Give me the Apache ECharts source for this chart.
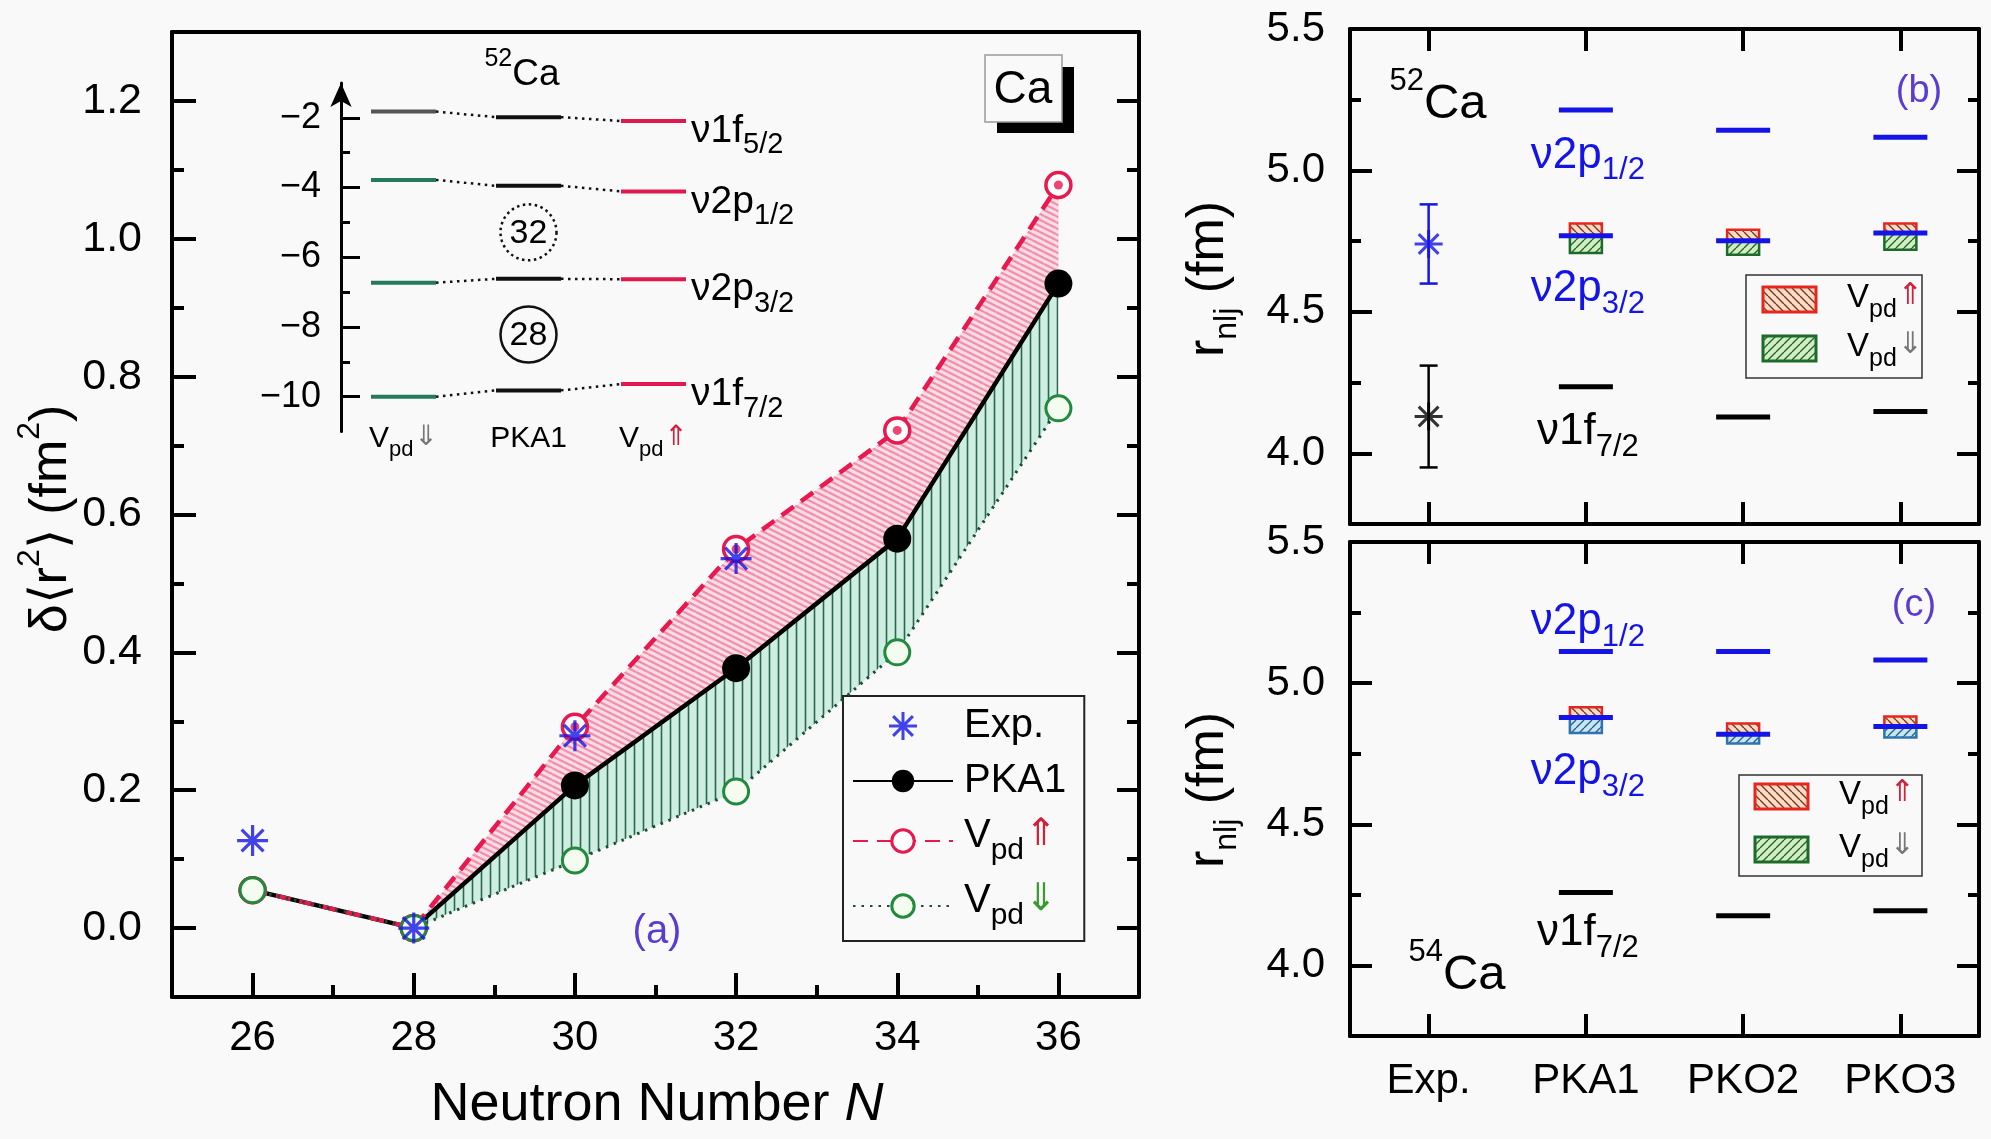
<!DOCTYPE html>
<html><head><meta charset="utf-8">
<script src="https://cdn.jsdelivr.net/npm/echarts@6/dist/echarts.min.js"></script>
<style>html,body{margin:0;padding:0;background:#f9f9f9;}#c{width:1991px;height:1139px;}</style>
</head><body><div id="c"></div>
<script>
// ---------------- data ----------------
const neutronN = [26, 28, 30, 32, 34, 36];
const expN = [26, 28, 30, 32];
const expDr2 = [0.127, 0.0, 0.279, 0.536];
const pka1Dr2 = [0.055, 0.0, 0.207, 0.377, 0.565, 0.935];
const vpdUpDr2 = [0.055, 0.0, 0.292, 0.550, 0.722, 1.078];
const vpdDownDr2 = [0.055, 0.0, 0.098, 0.198, 0.400, 0.754];
const xTicksA = [26, 28, 30, 32, 34, 36];
const xMinorA = [27, 29, 31, 33, 35];
const yTicksA = [0, 0.2, 0.4, 0.6, 0.8, 1.0, 1.2];
const yMinorA = [0.1, 0.3, 0.5, 0.7, 0.9, 1.1];

const insetColumns = ['Vpd⇓', 'PKA1', 'Vpd⇑'];
const insetLevelNames = ['ν1f{s|5/2}', 'ν2p{s|1/2}', 'ν2p{s|3/2}', 'ν1f{s|7/2}'];
const levelsVpdDown = [-1.82, -3.78, -6.73, -10.0];
const levelsPKA1 = [-1.98, -3.95, -6.62, -9.82];
const levelsVpdUp = [-2.09, -4.11, -6.63, -9.64];
const shellGaps = [32, 28];
const insetTicks = [-2, -4, -6, -8, -10];
const insetMinor = [-3, -5, -7, -9];

const models = ['Exp.', 'PKA1', 'PKO2', 'PKO3'];
const rTicks = [4.0, 4.5, 5.0, 5.5];
const rMinor = [4.25, 4.75, 5.25];
const rLevelNames = ['ν2p{s|1/2}', 'ν2p{s|3/2}', 'ν1f{s|7/2}'];
// 52Ca (PKA1, PKO2, PKO3)
const exp52 = [4.74, 4.13];
const exp52Err = [0.14, 0.18];
const ca52_2p12 = [5.214, 5.142, 5.117];
const ca52_2p32 = [4.769, 4.751, 4.779];
const ca52_1f72 = [4.235, 4.128, 4.148];
const ca52_2p32Up = [4.812, 4.790, 4.812];
const ca52_2p32Down = [4.708, 4.702, 4.720];
// 54Ca
const ca54_2p12 = [5.112, 5.112, 5.082];
const ca54_2p32 = [4.878, 4.819, 4.846];
const ca54_1f72 = [4.258, 4.176, 4.194];
const ca54_2p32Up = [4.915, 4.857, 4.882];
const ca54_2p32Down = [4.823, 4.786, 4.807];

// ---------------- styles ----------------
const FONT = '"Liberation Sans", Arial, Helvetica, sans-serif';
const ARW = '"DejaVu Sans", sans-serif';
const RED = '#e8194f', BLUE = '#1414e6', PURPLE = '#5a3cd2';

function hatch(bg, fg, w, h, lw, dir) {
  const c = document.createElement('canvas'); c.width = w; c.height = h;
  const g = c.getContext('2d'); g.fillStyle = bg; g.fillRect(0, 0, w, h);
  g.strokeStyle = fg; g.lineWidth = lw; g.beginPath();
  if (dir === 'v') { g.moveTo(w / 2, 0); g.lineTo(w / 2, h); }
  else if (dir === 'down') { for (let k = -1; k <= 1; k++) { g.moveTo(0, k * h); g.lineTo(w, (k + 1) * h); } }
  else { for (let k = -1; k <= 1; k++) { g.moveTo(0, (k + 1) * h); g.lineTo(w, k * h); } }
  g.stroke();
  return { image: c, repeat: 'repeat' };
}
const pinkFill = hatch('#fbdbe4', '#f08fab', 12, 6, 2.2, 'down');
const greenFill = hatch('#cdeee0', '#2d6650', 9, 4, 1.6, 'v');
const redBox = hatch('#fcdcc4', '#7a3a22', 8, 8, 1.4, 'down');
const greenBox = hatch('#cdefc2', '#2f5f2f', 8, 8, 1.4, 'up');
const blueBox = hatch('#c6e6f2', '#2a5f86', 8, 8, 1.4, 'up');
const ASTER = 'path://M10,0L10,20M0,10L20,10M2.93,2.93L17.07,17.07M2.93,17.07L17.07,2.93';

function tok(size, color, extra) {
  return Object.assign({ fontSize: size, fontFamily: FONT, color: color, fill: color, verticalAlign: 'top' }, extra || {});
}
function vpdRich(size, sub, arr, upColor, dnColor) {
  return {
    m: tok(size, '#000'),
    s: tok(sub, '#000', { padding: [Math.round(size * 0.5), 0, 0, 0] }),
    u: tok(arr, upColor, { fontFamily: ARW, padding: [0, 0, 0, 1] }),
    d: tok(arr, dnColor, { fontFamily: ARW, padding: [0, 0, 0, 1] })
  };
}
function vpdText(name) {
  if (name === 'Vpd⇑') return '{m|V}{s|pd}{u|⇑}';
  if (name === 'Vpd⇓') return '{m|V}{s|pd}{d|⇓}';
  return '{m|' + name + '}';
}

// ---------------- axes helpers ----------------
function valAxis(o) {
  return Object.assign({
    type: 'value', splitLine: { show: false },
    axisLine: { show: false, onZero: false }, axisTick: { show: false }, axisLabel: { show: false }
  }, o);
}
function lineOn(w) { return { show: true, onZero: false, lineStyle: { color: '#000', width: w } }; }
function ticks(len, vals, w) { return { show: true, inside: true, length: len, customValues: vals, lineStyle: { color: '#000', width: w } }; }

const xAxes = [
  valAxis({ gridIndex: 0, min: 25, max: 37, position: 'bottom', axisLine: lineOn(4), axisTick: ticks(24, xTicksA, 4),
    axisLabel: { show: true, customValues: xTicksA, fontSize: 42, fontFamily: FONT, color: '#000', margin: 20 } }),
  valAxis({ gridIndex: 0, min: 25, max: 37, position: 'bottom', axisTick: ticks(12, xMinorA, 4) }),
  valAxis({ gridIndex: 0, min: 25, max: 37, position: 'top', axisLine: lineOn(4) }),
  valAxis({ gridIndex: 1, min: 0, max: 3, position: 'bottom',
    axisLabel: { show: true, customValues: [0.5, 1.5, 2.5], margin: -8,
      formatter: v => vpdText(insetColumns[Math.round(v - 0.5)]),
      rich: vpdRich(30, 22, 28, '#d0203a', '#777') } }),
];
function catAxis(grid, pos, labels) {
  return {
    type: 'category', gridIndex: grid, data: models, position: pos, boundaryGap: true,
    axisLine: lineOn(4), splitLine: { show: false },
    axisTick: { show: true, inside: true, alignWithLabel: true, length: 22, lineStyle: { color: '#000', width: 4 } },
    axisLabel: labels ? { show: true, fontSize: 42, fontFamily: FONT, color: '#000', margin: 24 } : { show: false }
  };
}
xAxes.push(catAxis(2, 'bottom', false), catAxis(2, 'top', false), catAxis(3, 'bottom', true), catAxis(3, 'top', false));

const yAxes = [
  valAxis({ gridIndex: 0, min: -0.1, max: 1.3, position: 'left', axisLine: lineOn(4), axisTick: ticks(24, yTicksA, 4),
    axisLabel: { show: true, customValues: yTicksA, formatter: v => v.toFixed(1), fontSize: 43, fontFamily: FONT, color: '#000', margin: 30 } }),
  valAxis({ gridIndex: 0, min: -0.1, max: 1.3, position: 'left', axisTick: ticks(12, yMinorA, 4) }),
  valAxis({ gridIndex: 0, min: -0.1, max: 1.3, position: 'right', axisLine: lineOn(4), axisTick: ticks(22, yTicksA, 4) }),
  valAxis({ gridIndex: 0, min: -0.1, max: 1.3, position: 'right', axisTick: ticks(12, yMinorA, 4) }),
  valAxis({ gridIndex: 1, min: -11, max: -1, position: 'left',
    axisLine: { show: true, onZero: false, symbol: ['none', 'arrow'], symbolSize: [16, 24], lineStyle: { color: '#000', width: 3 } },
    axisTick: ticks(19, insetTicks, 3),
    axisLabel: { show: true, customValues: insetTicks, formatter: v => '−' + Math.abs(v), fontSize: 36, fontFamily: FONT, color: '#000', margin: 20 } }),
  valAxis({ gridIndex: 1, min: -11, max: -1, position: 'left', axisTick: ticks(9, insetMinor, 3) }),
];
function rAxes(grid) {
  return [
    valAxis({ gridIndex: grid, min: 3.75, max: 5.5, position: 'left', axisLine: lineOn(4), axisTick: ticks(22, rTicks, 4),
      axisLabel: { show: true, customValues: rTicks, formatter: v => v.toFixed(1), fontSize: 42, fontFamily: FONT, color: '#000', margin: 25 } }),
    valAxis({ gridIndex: grid, min: 3.75, max: 5.5, position: 'left', axisTick: ticks(11, rMinor, 4) }),
    valAxis({ gridIndex: grid, min: 3.75, max: 5.5, position: 'right', axisLine: lineOn(4), axisTick: ticks(22, rTicks, 4) }),
    valAxis({ gridIndex: grid, min: 3.75, max: 5.5, position: 'right', axisTick: ticks(11, rMinor, 4) }),
  ];
}
yAxes.push(...rAxes(2), ...rAxes(3)); // B: 6..9, C: 10..13

// ---------------- series: panel (a) ----------------
const series = [];
series.push({
  type: 'custom', xAxisIndex: 0, yAxisIndex: 0, silent: true, z: 1,
  data: neutronN.map((n, i) => [n, vpdUpDr2[i], pka1Dr2[i], vpdDownDr2[i]]),
  encode: { x: 0, y: [1, 2, 3] },
  renderItem: function (params, api) {
    if (params.dataIndex !== 0) return null;
    const up = [], mid = [], dn = [];
    for (let i = 0; i < neutronN.length; i++) {
      up.push(api.coord([neutronN[i], vpdUpDr2[i]]));
      mid.push(api.coord([neutronN[i], pka1Dr2[i]]));
      dn.push(api.coord([neutronN[i], vpdDownDr2[i]]));
    }
    return { type: 'group', children: [
      { type: 'polygon', shape: { points: up.concat(mid.slice().reverse()) }, style: { fill: pinkFill } },
      { type: 'polygon', shape: { points: mid.concat(dn.slice().reverse()) }, style: { fill: greenFill } }
    ] };
  }
});
series.push({
  name: 'PKA1', type: 'line', xAxisIndex: 0, yAxisIndex: 0, z: 4,
  data: neutronN.map((n, i) => [n, pka1Dr2[i]]),
  lineStyle: { color: '#000', width: 4.5 },
  symbol: 'circle', symbolSize: 28, itemStyle: { color: '#000' }
});
series.push({
  name: 'Vpd⇑', type: 'line', xAxisIndex: 0, yAxisIndex: 0, z: 5,
  data: neutronN.map((n, i) => [n, vpdUpDr2[i]]),
  lineStyle: { color: RED, width: 4.5, type: [15, 9] },
  symbol: 'circle', symbolSize: 25,
  itemStyle: { color: '#fff', borderColor: RED, borderWidth: 3.5 }
});
series.push({
  name: 'Vpd⇓', type: 'line', xAxisIndex: 0, yAxisIndex: 0, z: 6,
  data: neutronN.map((n, i) => [n, vpdDownDr2[i]]),
  lineStyle: { color: '#1d4d35', width: 3, type: [2.5, 6] },
  symbol: 'circle', symbolSize: 25,
  itemStyle: { color: '#f4fbef', borderColor: '#218a3c', borderWidth: 3 }
});
series.push({
  name: 'dot', type: 'scatter', xAxisIndex: 0, yAxisIndex: 0, z: 6, silent: true,
  data: neutronN.slice(2).map((n, i) => [n, vpdUpDr2[i + 2]]),
  symbol: 'circle', symbolSize: 9, itemStyle: { color: RED }
});
series.push({
  name: 'Exp.', type: 'scatter', xAxisIndex: 0, yAxisIndex: 0, z: 7,
  data: expN.map((n, i) => [n, expDr2[i]]),
  symbol: ASTER, symbolSize: 31,
  itemStyle: { color: 'rgba(0,0,0,0)', borderColor: BLUE, borderWidth: 3.2 }
});

// ---------------- series: inset ----------------
const insetCols = [levelsVpdDown, levelsPKA1, levelsVpdUp];
const insetColors = ['#237a5e', '#111111', '#e0184e'];
const insetData = [];
insetCols.forEach((arr, c) => arr.forEach((e, L) => insetData.push([c + 0.5, e, c, L])));
series.push({
  type: 'custom', xAxisIndex: 3, yAxisIndex: 4, silent: true, z: 10,
  data: insetData, encode: { x: 0, y: 1 },
  renderItem: function (params, api) {
    const x = api.value(0), e = api.value(1), c = api.value(2), L = api.value(3);
    const p0 = api.coord([x - 0.26, e]), p1 = api.coord([x + 0.26, e]);
    const col = (c === 0 && L === 0) ? '#555' : insetColors[c];
    const ch = [{ type: 'line', shape: { x1: p0[0], y1: p0[1], x2: p1[0], y2: p1[1] }, style: { stroke: col, lineWidth: 4 } }];
    if (c < 2) {
      const q = api.coord([x + 1 - 0.26, insetCols[c + 1][L]]);
      ch.push({ type: 'line', shape: { x1: p1[0], y1: p1[1], x2: q[0], y2: q[1] }, style: { stroke: '#111', lineWidth: 2.5, lineDash: [2.5, 4.5] } });
    } else {
      ch.push({ type: 'text', x: p1[0] + 5, y: p1[1] + 15, style: {
        text: '{m|' + insetLevelNames[L].replace('{s|', '}{s|'),
        align: 'left', verticalAlign: 'middle', textAlign: 'left', textVerticalAlign: 'middle',
        rich: { m: tok(39, '#000'), s: tok(29, '#000', { padding: [19, 0, 0, 0] }) } } });
    }
    return { type: 'group', children: ch };
  }
});
series.push({
  type: 'custom', xAxisIndex: 3, yAxisIndex: 4, silent: true, z: 10,
  data: shellGaps.map((n, k) => [1.5, (levelsPKA1[k + 1] + levelsPKA1[k + 2]) / 2, n, k === 0 ? 1 : 0]),
  encode: { x: 0, y: 1 },
  renderItem: function (params, api) {
    const p = api.coord([api.value(0), api.value(1)]);
    return { type: 'group', children: [
      { type: 'circle', shape: { cx: p[0], cy: p[1], r: 28 }, style: { fill: 'none', stroke: '#111', lineWidth: 2.5, lineDash: api.value(3) ? [2.5, 3.5] : null } },
      { type: 'text', x: p[0], y: p[1] + 1, style: { text: String(api.value(2)), fontSize: 34, fontFamily: FONT, fill: '#000',
        align: 'center', verticalAlign: 'middle', textAlign: 'center', textVerticalAlign: 'middle' } }
    ] };
  }
});

// ---------------- series: panels (b),(c) ----------------
function rPanel(xi, yi, l12, l32, l17, up, down, labelDy, lowFill, lowStroke, expV, expE) {
  const levels = [l12, l32, l17];
  const levelColors = [BLUE, BLUE, '#000'];
  const lineData = [];
  levels.forEach((arr, L) => arr.forEach((v, k) => lineData.push([k + 1, v, L])));
  series.push({
    type: 'custom', xAxisIndex: xi, yAxisIndex: yi, silent: true, z: 4,
    data: up.map((u, k) => [k + 1, down[k], l32[k], u]), encode: { x: 0, y: [1, 2, 3] },
    renderItem: function (params, api) {
      const x = api.value(0), hw = 16;
      const pl = api.coord([x, api.value(1)]), pm = api.coord([x, api.value(2)]), ph = api.coord([x, api.value(3)]);
      return { type: 'group', children: [
        { type: 'rect', shape: { x: pm[0] - hw, y: ph[1], width: 2 * hw, height: pm[1] - ph[1] }, style: { fill: redBox, stroke: '#e8241f', lineWidth: 2.5 } },
        { type: 'rect', shape: { x: pl[0] - hw, y: pm[1], width: 2 * hw, height: pl[1] - pm[1] }, style: { fill: lowFill, stroke: lowStroke, lineWidth: 2.5 } }
      ] };
    }
  });
  series.push({
    type: 'custom', xAxisIndex: xi, yAxisIndex: yi, silent: true, z: 5,
    data: lineData, encode: { x: 0, y: 1 },
    renderItem: function (params, api) {
      const x = api.value(0), v = api.value(1), L = api.value(2);
      const p = api.coord([x, v]);
      const hw = 27;
      const col = levelColors[L];
      const ch = [{ type: 'line', shape: { x1: p[0] - hw, y1: p[1], x2: p[0] + hw, y2: p[1] }, style: { stroke: col, lineWidth: 5 } }];
      if (x === 1) {
        const t = rLevelNames[L];
        ch.push({ type: 'text', x: p[0] + 2, y: p[1] + labelDy[L], style: {
          text: '{m|' + t.replace('{s|', '}{s|'), align: 'center', verticalAlign: 'middle', textAlign: 'center', textVerticalAlign: 'middle',
          rich: { m: tok(44, col), s: tok(31, col, { padding: [22, 0, 0, 0] }) } } });
      }
      return { type: 'group', children: ch };
    }
  });
  if (expV.length) {
    const expColors = [BLUE, '#000'];
    series.push({
      type: 'custom', xAxisIndex: xi, yAxisIndex: yi, silent: true, z: 5,
      data: expV.map((v, k) => [0, v, expE[k], k]), encode: { x: 0, y: 1 },
      renderItem: function (params, api) {
        const x = api.value(0), v = api.value(1), e = api.value(2), col = expColors[api.value(3)];
        const a = api.coord([x, v + e]), b = api.coord([x, v - e]);
        const st = { stroke: col, lineWidth: 2.5 };
        return { type: 'group', children: [
          { type: 'line', shape: { x1: a[0], y1: a[1], x2: b[0], y2: b[1] }, style: st },
          { type: 'line', shape: { x1: a[0] - 9, y1: a[1], x2: a[0] + 9, y2: a[1] }, style: st },
          { type: 'line', shape: { x1: b[0] - 9, y1: b[1], x2: b[0] + 9, y2: b[1] }, style: st }
        ] };
      }
    });
    series.push({
      type: 'scatter', xAxisIndex: xi, yAxisIndex: yi, z: 6, silent: true,
      symbol: ASTER, symbolSize: 28,
      data: expV.map((v, k) => ({ value: [0, v], itemStyle: { color: 'rgba(0,0,0,0)', borderColor: expColors[k], borderWidth: 3 } }))
    });
  }
}
rPanel(4, 6, ca52_2p12, ca52_2p32, ca52_1f72, ca52_2p32Up, ca52_2p32Down, [50, 58, 50], greenBox, '#1c6b2a', exp52, exp52Err);
rPanel(6, 10, ca54_2p12, ca54_2p32, ca54_1f72, ca54_2p32Up, ca54_2p32Down, [-25, 59, 45], blueBox, '#2f74b0', [], []);

// ---------------- graphic (titles, boxes, legends) ----------------
function txt(x, y, text, rich, extra) {
  return Object.assign({ type: 'text', x: x, y: y, z: 100, style: { text: text, rich: rich,
    align: 'center', verticalAlign: 'middle', textAlign: 'center', textVerticalAlign: 'middle' } }, extra || {});
}
const supRich = (m, s, pad) => ({ m: tok(m, '#000', { padding: [pad, 0, 0, 0] }), u: tok(s, '#000') });
function boxLegend(x, y, w, h, rows) {
  const ch = [{ type: 'rect', shape: { x: x, y: y, width: w, height: h }, style: { fill: '#f9f9f9', stroke: '#333', lineWidth: 1.5 } }];
  rows.forEach(r => {
    ch.push({ type: 'rect', shape: { x: r.x, y: r.y, width: 53, height: 25 }, style: { fill: r.fill, stroke: r.stroke, lineWidth: 3 } });
    ch.push({ type: 'text', x: r.x + 84, y: r.y + 15, style: { text: vpdText(r.name), rich: vpdRich(33, 25, 30, '#d0203a', '#777'),
      align: 'left', verticalAlign: 'middle', textAlign: 'left', textVerticalAlign: 'middle' } });
  });
  return { type: 'group', z: 100, children: ch };
}
const graphic = [
  { type: 'rect', z: 100, shape: { x: 997, y: 67, width: 77, height: 66 }, style: { fill: '#000' } },
  { type: 'rect', z: 101, shape: { x: 985, y: 55, width: 77, height: 67 }, style: { fill: '#f9f9f9', stroke: '#999', lineWidth: 1.5 } },
  txt(1023, 90, '{m|Ca}', { m: tok(46, '#000', { verticalAlign: 'middle' }) }, { z: 102 }),
  txt(657, 932, '{m|(a)}', { m: tok(40, PURPLE, { verticalAlign: 'middle' }) }),
  txt(1919, 92, '{m|(b)}', { m: tok(38, PURPLE, { verticalAlign: 'middle' }) }),
  txt(1914, 606, '{m|(c)}', { m: tok(38, PURPLE, { verticalAlign: 'middle' }) }),
  txt(522, 70, '{u|52}{m|Ca}', supRich(37, 25, 10)),
  txt(1438, 97, '{u|52}{m|Ca}', supRich(49, 31, 14)),
  txt(1457, 968, '{u|54}{m|Ca}', supRich(49, 31, 14)),
  txt(657, 1105, '{m|Neutron Number }{i|N}', { m: tok(54, '#000', { verticalAlign: 'middle' }), i: tok(54, '#000', { verticalAlign: 'middle', fontStyle: 'italic' }) }),
  txt(46, 519, '{m|δ⟨r}{u|2}{m|⟩ (fm}{u|2}{m|)}', { m: tok(52, '#000', { padding: [12, 0, 0, 0] }), u: tok(32, '#000') }, { rotation: Math.PI / 2 }),
  txt(1213, 279, '{m|r}{s|nlj}{m| (fm)}', { m: tok(52, '#000'), s: tok(32, '#000', { padding: [28, 0, 0, 0] }) }, { rotation: Math.PI / 2 }),
  txt(1213, 790, '{m|r}{s|nlj}{m| (fm)}', { m: tok(52, '#000'), s: tok(32, '#000', { padding: [28, 0, 0, 0] }) }, { rotation: Math.PI / 2 }),
  boxLegend(1746, 275, 176, 103, [
    { x: 1763, y: 287, fill: redBox, stroke: '#e8241f', name: 'Vpd⇑' },
    { x: 1763, y: 336, fill: greenBox, stroke: '#1c6b2a', name: 'Vpd⇓' }]),
  boxLegend(1739, 775, 183, 101, [
    { x: 1755, y: 784, fill: redBox, stroke: '#e8241f', name: 'Vpd⇑' },
    { x: 1755, y: 837, fill: greenBox, stroke: '#1c6b2a', name: 'Vpd⇓' }]),
];

const option = {
  backgroundColor: '#f9f9f9',
  animation: false,
  grid: [
    { left: 172, top: 32, width: 967, height: 965 },
    { left: 341, top: 83, width: 375, height: 348.5 },
    { left: 1350, top: 29, width: 629, height: 495 },
    { left: 1350, top: 542, width: 629, height: 494 }
  ],
  xAxis: xAxes,
  yAxis: yAxes,
  legend: {
    left: 843, top: 696, orient: 'vertical', selectedMode: false,
    data: ['Exp.', 'PKA1', 'Vpd⇑', 'Vpd⇓'],
    itemWidth: 100, itemHeight: 28, itemGap: 15,
    padding: [10, 18, 10, 9],
    borderColor: '#222', borderWidth: 2, backgroundColor: '#f9f9f9',
    itemStyle: { borderWidth: 3 },
    formatter: vpdText,
    textStyle: { fontSize: 40, fontFamily: FONT, color: '#000', padding: [0, 0, 0, 6], rich: vpdRich(40, 30, 38, '#d0203a', '#3a9a30') }
  },
  series: series,
  graphic: graphic
};
const chart = echarts.init(document.getElementById('c'));
chart.setOption(option);
</script>
</body></html>
